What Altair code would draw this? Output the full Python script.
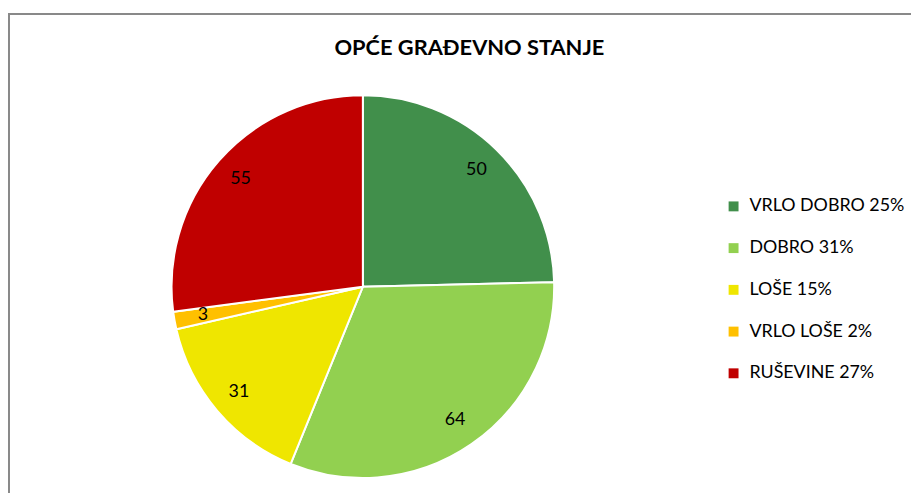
import altair as alt
import pandas as pd

categories = ["VRLO DOBRO", "DOBRO", "LOŠE", "VRLO LOŠE", "RUŠEVINE"]
values = [50, 64, 31, 3, 55]
percent_labels = ["25%", "31%", "15%", "2%", "27%"]
colors = ["#418f4b", "#92d050", "#efe600", "#ffc000", "#c00000"]

legend_names = [f"{c} {p}" for c, p in zip(categories, percent_labels)]
df = pd.DataFrame({
    "kategorija": legend_names,
    "vrijednost": values,
    "idx": list(range(len(values))),
})

FONT = "Lato"
CX, CY = 358, 276

base = alt.Chart(df).encode(
    theta=alt.Theta("vrijednost:Q", stack=True),
    order=alt.Order("idx:Q"),
)

arcs = base.mark_arc(outerRadius=193, stroke="white", strokeWidth=2).encode(
    x=alt.value(CX),
    y=alt.value(CY),
    color=alt.Color(
        "kategorija:N",
        scale=alt.Scale(domain=legend_names, range=colors),
        sort=legend_names,
        legend=alt.Legend(
            title=None,
            orient="none",
            legendX=723,
            legendY=186,
            symbolType="square",
            symbolSize=100,
            symbolStrokeWidth=0,
            labelFont=FONT,
            labelFontSize=18,
            labelColor="#000000",
            labelOffset=7,
            rowPadding=24.1,
            padding=0,
        ),
    ),
)

labels = base.mark_text(radius=164, font=FONT, fontSize=18, color="#000000").encode(
    x=alt.value(CX),
    y=alt.value(CY),
    text=alt.Text("vrijednost:Q"),
)

frame = alt.Chart(pd.DataFrame({"a": [0]})).mark_rect(
    fillOpacity=0, stroke="#898989", strokeWidth=2
).encode(
    x=alt.value(1), y=alt.value(1), x2=alt.value(3000), y2=alt.value(3000)
)

chart = alt.layer(frame, arcs, labels).properties(
    width=911,
    height=482,
    padding={"left": 0, "top": 3, "right": 0, "bottom": 0},
    autosize=alt.AutoSizeParams(type="none"),
    title=alt.TitleParams(
        "OPĆE GRAĐEVNO STANJE",
        font=FONT,
        fontSize=22,
        fontWeight="bold",
        color="#000000",
        anchor="middle",
        frame="group",
        orient="top",
        baseline="alphabetic",
        offset=-64,
        dx=10,
    ),
).configure_view(stroke=None)

chart.save("out.html", embed_options={"renderer": "svg", "actions": False})
